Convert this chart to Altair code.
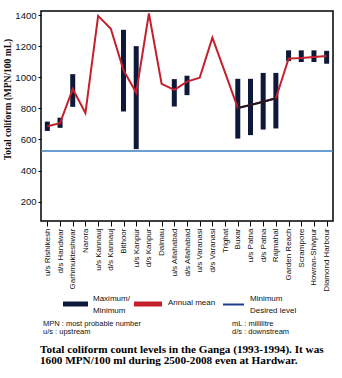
import altair as alt
import pandas as pd

stations = ["u/s Rishikesh", "d/s Handwar", "Garhmukteshwar", "Narora", "u/s Kannauj",
            "d/s Kannauj", "Bithoor", "u/s Kanpur", "d/s Kanpur", "Dalmau",
            "u/s Allahabad", "d/s Allahabad", "u/s Varanasi", "d/s Varanasi", "Trighat",
            "Buxar", "u/s Patna", "d/s Patna", "Rajmahal", "Garden Reach",
            "Scrampore", "Howran-Shivpur", "Diamond Harbour"]
annual_mean = [685, 705, 925, 770, 1395, 1312, 1045, 900, 1410, 958,
               919, 972, 997, 1255, 1030, 803, 822, 843, 865, 1120,
               1124, 1130, 1137]
maximum = [715, 740, 1020, None, None, None, 1305, 1200, None, None,
           988, 1010, None, None, None, 990, 990, 1028, 1028, 1173,
           1173, 1173, 1170]
minimum = [655, 675, 810, None, None, None, 780, 538, None, None,
           812, 885, None, None, None, 606, 628, 664, 671, 1104,
           1098, 1098, 1087]
desired_level = [526]
dark_segment = ["Buxar", "u/s Patna", "d/s Patna", "Rajmahal"]

df = pd.DataFrame({"station": stations, "mean": annual_mean,
                   "max": maximum, "min": minimum})
df_bars = df.dropna(subset=["max", "min"])
df_dark = df[df["station"].isin(dark_segment)]

W, H = 292, 210
xenc = alt.X("station:N", sort=stations,
             scale=alt.Scale(type="point", padding=0.5),
             axis=alt.Axis(title=None, labelAngle=270, labelFontSize=8,
                           labelFont="Liberation Sans", labelColor="#111",
                           tickSize=5, tickColor="black", labelPadding=2,
                           domain=False, grid=False))
yscale = alt.Scale(domain=[76, 1426], nice=False, zero=False)
yaxis = alt.Axis(title="Total coliform (MPN/100 mL)", values=[200, 400, 600, 800, 1000, 1200, 1400],
                 format="d",
                 labelFont="Liberation Sans", labelFontSize=9.5, labelColor="#111",
                 tickSize=3, tickColor="black", labelPadding=2, domain=False, grid=False,
                 titleFont="Liberation Serif", titleFontSize=9.5, titleFontWeight="bold",
                 titleColor="#111", titleX=-29, titleY=88, titleAngle=270)

base = alt.Chart(df)

desired = alt.Chart(pd.DataFrame({"level": desired_level})).mark_rule(
    color="#3a7fc0", strokeWidth=1.5).encode(y=alt.Y("level:Q", scale=yscale, axis=yaxis))

bars = alt.Chart(df_bars).mark_rule(color="#0e1838", strokeWidth=5).encode(
    x=xenc, y=alt.Y("min:Q", scale=yscale, axis=yaxis), y2="max:Q")

line = base.mark_line(color="#c4202c", strokeWidth=2).encode(
    x=xenc, y=alt.Y("mean:Q", scale=yscale, axis=yaxis))

line_dark = alt.Chart(df_dark).mark_line(color="#1a1a22", strokeWidth=2).encode(
    x=xenc, y=alt.Y("mean:Q", scale=yscale, axis=yaxis))

# legend & notes (pixel positions relative to plot origin)
leg_rect_df = pd.DataFrame({"x": [22, 93], "x2": [47, 121], "c": ["#0e1838", "#c4202c"]})
leg_rects = alt.Chart(leg_rect_df).mark_rect().encode(
    x=alt.X("x:Q", scale=None), x2="x2:Q",
    y=alt.value(290.5), y2=alt.value(295.5),
    color=alt.Color("c:N", scale=None, legend=None))
leg_blue = alt.Chart(pd.DataFrame({"a": [1]})).mark_rule(color="#1f3c8c", strokeWidth=2).encode(
    x=alt.value(182), x2=alt.value(203), y=alt.value(293.5))

leg_text_df = pd.DataFrame({
    "t": ["Maximum/", "Minimum", "Annual mean", "Minimum", "Desired level"],
    "x": [52, 52, 127, 209, 209],
    "y": [288, 299.5, 292, 288, 299.5]})
leg_text = alt.Chart(leg_text_df).mark_text(
    align="left", baseline="middle", font="Liberation Sans", fontSize=8, color="#111").encode(
    x=alt.X("x:Q", scale=None), y=alt.Y("y:Q", scale=None), text="t:N")

note_df = pd.DataFrame({
    "t": ["MPN : most probable number", "u/s : upstream", "mL : millilitre", "d/s : downstream"],
    "x": [2, 2, 191, 191],
    "y": [312.5, 321, 312.5, 321]})
notes = alt.Chart(note_df).mark_text(
    align="left", baseline="middle", font="Liberation Sans", fontSize=7.5, color="#111").encode(
    x=alt.X("x:Q", scale=None), y=alt.Y("y:Q", scale=None), text="t:N")

cap_df = pd.DataFrame({
    "t": ["Total coliform count levels in the Ganga (1993-1994). It was",
          "1600 MPN/100 ml during 2500-2008 even at Hardwar."],
    "x": [-1, -1],
    "y": [338.5, 350]})
caption = alt.Chart(cap_df).mark_text(
    align="left", baseline="middle", font="Liberation Serif", fontSize=11.2,
    fontWeight="bold", color="#000").encode(
    x=alt.X("x:Q", scale=None), y=alt.Y("y:Q", scale=None), text="t:N")

chart = alt.layer(desired, bars, line, line_dark, leg_rects, leg_blue, leg_text, notes, caption).properties(
    width=W, height=H,
    autosize=alt.AutoSizeParams(type="none"),
    padding={"left": 41, "top": 11, "right": 9, "bottom": 157},
    background="white"
).configure_view(stroke="black", strokeWidth=1.5)

chart.save("out.html", embed_options={"renderer": "svg", "actions": False})
